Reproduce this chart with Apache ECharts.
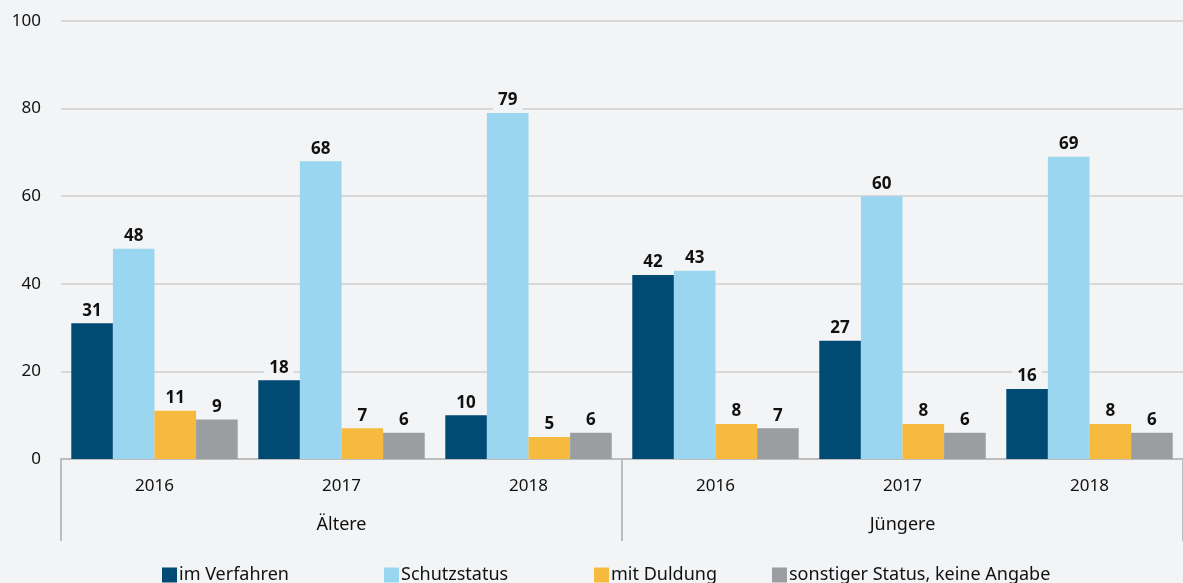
<!DOCTYPE html>
<html>
<head>
<meta charset="utf-8">
<script src="https://cdn.jsdelivr.net/npm/echarts@6/dist/echarts.min.js"></script>
<style>
  html, body { margin: 0; padding: 0; background: #f3f4f6; }
  #chart { width: 1183px; height: 583px; }
</style>
</head>
<body>
<div id="chart"></div>
<script>
// Data
const years = ["2016", "2017", "2018", "2016", "2017", "2018"];
const groups = ["Ältere", "Jüngere"];
const imVerfahren = [31, 18, 10, 42, 27, 16];
const schutzstatus = [48, 68, 79, 43, 60, 69];
const mitDuldung = [11, 7, 5, 8, 8, 8];
const sonstiger = [9, 6, 6, 7, 6, 6];

const bg = "#f3f4f6";
const fontFam = "'Noto Sans', 'Open Sans', sans-serif";

function makeSeries(name, data, color) {
  return {
    name: name,
    type: "bar",
    data: data,
    barGap: "0%",
    barCategoryGap: "11%",
    itemStyle: { color: color },
    label: {
      show: true,
      position: "top",
      distance: 3,
      color: "#111",
      fontWeight: "bold",
      fontSize: 17,
      fontFamily: fontFam,
      backgroundColor: bg,
      padding: [1, 5, 1, 5],
    },
  };
}

function legendItem(name, left) {
  return {
    data: [name],
    left: left,
    bottom: -6,
    icon: "rect",
    itemWidth: 15,
    itemHeight: 15,
    itemGap: 0,
    textStyle: { fontSize: 18, color: "#111", fontFamily: fontFam, padding: [0, 0, 0, -3] },
  };
}

const chart = echarts.init(document.getElementById("chart"));
chart.setOption({
  animation: false,
  backgroundColor: bg,
  grid: { left: 61, right: 0, top: 21, bottom: 124 },
  legend: [
    legendItem("im Verfahren", 157),
    legendItem("Schutzstatus", 379),
    legendItem("mit Duldung", 589),
    legendItem("sonstiger Status, keine Angabe", 767),
  ],
  xAxis: [
    {
      type: "category",
      data: years,
      axisLine: { show: true, lineStyle: { color: "#bdbdbd", width: 2 } },
      axisTick: { show: false },
      axisLabel: { margin: 19, fontSize: 17, color: "#111", fontFamily: fontFam },
    },
    {
      type: "category",
      data: groups,
      position: "bottom",
      axisLine: { show: false },
      axisTick: { show: true, length: 82, lineStyle: { color: "#bdbdbd", width: 2 } },
      axisLabel: { margin: 57, fontSize: 18, color: "#111", fontFamily: fontFam },
    },
  ],
  yAxis: {
    type: "value",
    min: 0,
    max: 100,
    interval: 20,
    axisLine: { show: false },
    axisTick: { show: false },
    axisLabel: { margin: 20, fontSize: 17, color: "#111", fontFamily: fontFam },
    splitLine: { lineStyle: { color: "#cfcfcf", width: 1.5 } },
  },
  series: [
    makeSeries("im Verfahren", imVerfahren, "#004a74"),
    makeSeries("Schutzstatus", schutzstatus, "#9ad6ef"),
    makeSeries("mit Duldung", mitDuldung, "#f6ba3f"),
    makeSeries("sonstiger Status, keine Angabe", sonstiger, "#9a9ea0"),
  ],
});
</script>
</body>
</html>
